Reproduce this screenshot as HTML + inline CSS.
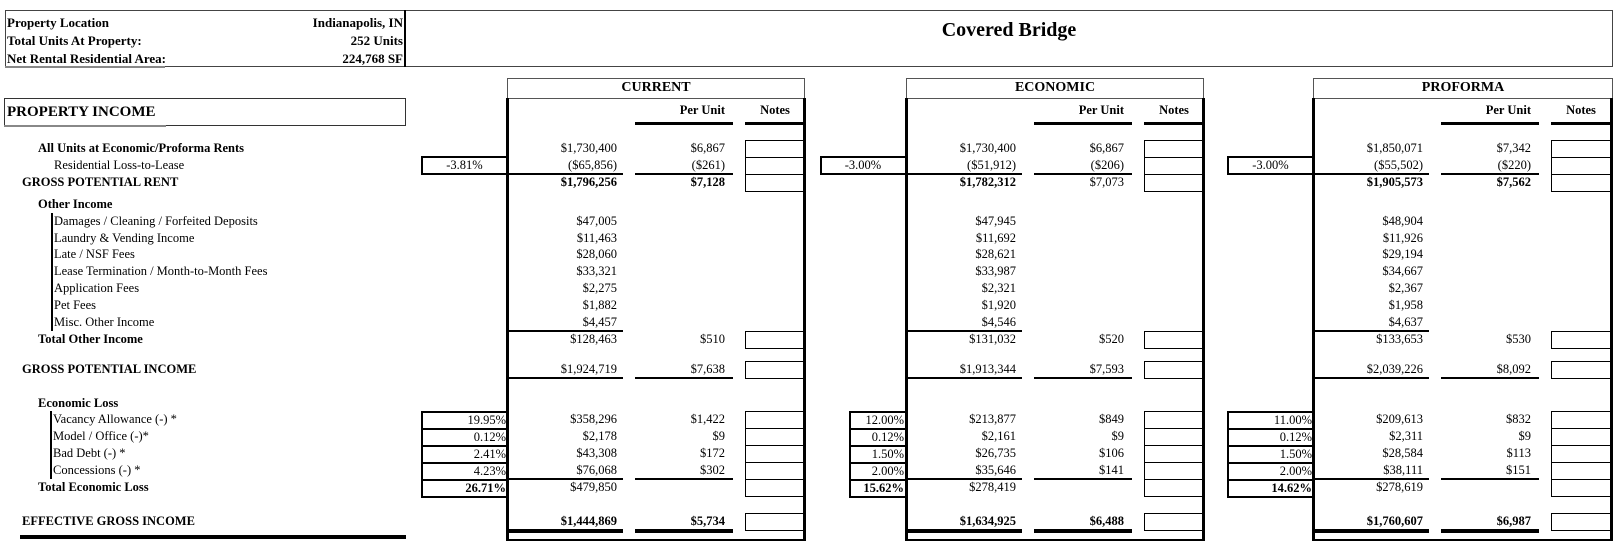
<!DOCTYPE html>
<html><head><meta charset="utf-8"><style>
body{margin:0;width:1621px;height:551px;background:#fff;position:relative;overflow:hidden;font-family:"Liberation Serif",serif;font-size:12.5px;color:#000}
div{position:absolute;box-sizing:border-box}
.t{line-height:17px;white-space:nowrap}
.b{font-weight:bold}
.s{top:0;width:300px;height:551px}
.a{left:0;width:110px;text-align:right;line-height:17px;white-space:nowrap}
.p{left:120px;width:98px;text-align:right;line-height:17px;white-space:nowrap}
.n{left:238px;width:60px;height:18px;border:1px solid #000}
.u{background:#000;height:2px}
.pb{border:2px solid #000;height:19px;text-align:right;line-height:15px;padding-right:1px}
</style></head><body>
<!-- header -->
<div style="left:5px;top:10px;width:1608px;height:57px;border:1px solid #444"></div>
<div style="left:404px;top:10px;width:2px;height:57px;background:#000"></div>
<div style="left:5px;top:66px;width:160px;height:2px;background:#888"></div>
<div class="t b" style="left:7px;top:14px;font-size:13px">Property Location</div>
<div class="t b" style="left:7px;top:32px;font-size:13px">Total Units At Property:</div>
<div class="t b" style="left:7px;top:50px;font-size:13px">Net Rental Residential Area:</div>
<div class="t b" style="left:250px;width:153px;text-align:right;top:14px;font-size:13px">Indianapolis, IN</div>
<div class="t b" style="left:250px;width:153px;text-align:right;top:32px;font-size:13px">252 Units</div>
<div class="t b" style="left:250px;width:153px;text-align:right;top:50px;font-size:13px">224,768 SF</div>
<div class="t b" style="left:406px;width:1206px;text-align:center;top:18px;font-size:20px;line-height:24px">Covered Bridge</div>

<div style="left:4px;top:98px;width:402px;height:28px;border:1px solid #333"></div>
<div style="left:4px;top:125px;width:162px;height:2px;background:#888"></div>
<div class="t b" style="left:7px;top:104px;font-size:15px">PROPERTY INCOME</div>

<!-- left labels -->
<div class="t b" style="left:38px;top:140px">All Units at Economic/Proforma Rents</div>
<div class="t" style="left:54px;top:157px">Residential Loss-to-Lease</div>
<div class="t b" style="left:22px;top:174px">GROSS POTENTIAL RENT</div>
<div class="t b" style="left:38px;top:196px">Other Income</div>
<div style="left:51px;top:213px;width:2px;height:118px;background:#000"></div>
<div class="t" style="left:54px;top:213px">Damages / Cleaning / Forfeited Deposits</div>
<div class="t" style="left:54px;top:230px">Laundry &amp; Vending Income</div>
<div class="t" style="left:54px;top:246px">Late / NSF Fees</div>
<div class="t" style="left:54px;top:263px">Lease Termination / Month-to-Month Fees</div>
<div class="t" style="left:54px;top:280px">Application Fees</div>
<div class="t" style="left:54px;top:297px">Pet Fees</div>
<div class="t" style="left:54px;top:314px">Misc. Other Income</div>
<div class="t b" style="left:38px;top:331px">Total Other Income</div>
<div class="t b" style="left:22px;top:361px">GROSS POTENTIAL INCOME</div>
<div class="t b" style="left:38px;top:395px">Economic Loss</div>
<div style="left:50px;top:411px;width:2px;height:68px;background:#000"></div>
<div class="t" style="left:53px;top:411px">Vacancy Allowance (-) *</div>
<div class="t" style="left:53px;top:428px">Model / Office (-)*</div>
<div class="t" style="left:53px;top:445px">Bad Debt (-) *</div>
<div class="t" style="left:53px;top:462px">Concessions (-) *</div>
<div class="t b" style="left:38px;top:479px">Total Economic Loss</div>
<div class="t b" style="left:22px;top:513px">EFFECTIVE GROSS INCOME</div>
<div style="left:20px;top:535px;width:386px;height:4px;background:#000"></div>

<!-- pct boxes -->
<div class="pb" style="left:421px;top:156px;width:88px;text-align:center">-3.81%</div>
<div class="pb" style="left:421px;top:411px;width:88px">19.95%</div>
<div class="pb" style="left:421px;top:428px;width:88px">0.12%</div>
<div class="pb" style="left:421px;top:445px;width:88px">2.41%</div>
<div class="pb" style="left:421px;top:462px;width:88px">4.23%</div>
<div class="pb b" style="left:421px;top:479px;width:88px">26.71%</div>

<div class="pb" style="left:820px;top:156px;width:87px;text-align:center">-3.00%</div>
<div class="pb" style="left:849px;top:411px;width:58px">12.00%</div>
<div class="pb" style="left:849px;top:428px;width:58px">0.12%</div>
<div class="pb" style="left:849px;top:445px;width:58px">1.50%</div>
<div class="pb" style="left:849px;top:462px;width:58px">2.00%</div>
<div class="pb b" style="left:849px;top:479px;width:58px">15.62%</div>

<div class="pb" style="left:1227px;top:156px;width:88px;text-align:center">-3.00%</div>
<div class="pb" style="left:1227px;top:411px;width:88px">11.00%</div>
<div class="pb" style="left:1227px;top:428px;width:88px">0.12%</div>
<div class="pb" style="left:1227px;top:445px;width:88px">1.50%</div>
<div class="pb" style="left:1227px;top:462px;width:88px">2.00%</div>
<div class="pb b" style="left:1227px;top:479px;width:88px">14.62%</div>

<!-- CURRENT -->
<div class="s" style="left:507px">
<div style="left:0;top:78px;width:298px;height:21px;border:1px solid #555"></div>
<div class="t b" style="left:0;width:298px;text-align:center;top:79px;font-size:14px">CURRENT</div>
<div style="left:-1px;top:98px;width:3px;height:443px;background:#000"></div>
<div style="left:296px;top:98px;width:3px;height:443px;background:#000"></div>
<div style="left:0;top:539px;width:298px;height:2px;background:#000"></div>
<div class="p b" style="top:102px">Per Unit</div>
<div class="t b" style="left:238px;width:60px;text-align:center;top:102px">Notes</div>
<div class="u" style="left:128px;width:98px;top:122px;height:3px"></div>
<div class="u" style="left:238px;width:60px;top:122px;height:3px"></div>
<div class="n" style="top:140px"></div><div class="n" style="top:157px"></div><div class="n" style="top:174px"></div>
<div class="n" style="top:331px"></div><div class="n" style="top:361px"></div>
<div class="n" style="top:411px"></div><div class="n" style="top:428px"></div><div class="n" style="top:445px"></div><div class="n" style="top:462px"></div><div class="n" style="top:479px"></div>
<div class="n" style="top:513px"></div>
<div class="a" style="top:140px">$1,730,400</div><div class="p" style="top:140px">$6,867</div>
<div class="a" style="top:157px">($65,856)</div><div class="p" style="top:157px">($261)</div>
<div class="u" style="left:0;width:116px;top:173px"></div><div class="u" style="left:128px;width:98px;top:173px"></div>
<div class="a b" style="top:174px">$1,796,256</div><div class="p b" style="top:174px">$7,128</div>
<div class="a" style="top:213px">$47,005</div>
<div class="a" style="top:230px">$11,463</div>
<div class="a" style="top:246px">$28,060</div>
<div class="a" style="top:263px">$33,321</div>
<div class="a" style="top:280px">$2,275</div>
<div class="a" style="top:297px">$1,882</div>
<div class="a" style="top:314px">$4,457</div>
<div class="u" style="left:0;width:116px;top:330px"></div>
<div class="a" style="top:331px">$128,463</div><div class="p" style="top:331px">$510</div>
<div class="a" style="top:361px">$1,924,719</div><div class="p" style="top:361px">$7,638</div>
<div class="u" style="left:0;width:116px;top:377px"></div><div class="u" style="left:128px;width:98px;top:377px"></div>
<div class="a" style="top:411px">$358,296</div><div class="p" style="top:411px">$1,422</div>
<div class="a" style="top:428px">$2,178</div><div class="p" style="top:428px">$9</div>
<div class="a" style="top:445px">$43,308</div><div class="p" style="top:445px">$172</div>
<div class="a" style="top:462px">$76,068</div><div class="p" style="top:462px">$302</div>
<div class="u" style="left:0;width:116px;top:478px"></div><div class="u" style="left:128px;width:98px;top:478px"></div>
<div class="a" style="top:479px">$479,850</div>
<div class="a b" style="top:513px">$1,444,869</div><div class="p b" style="top:513px">$5,734</div>
<div class="u" style="left:0;width:116px;top:529px;height:4px"></div><div class="u" style="left:128px;width:98px;top:529px;height:4px"></div>
</div>

<!-- ECONOMIC -->
<div class="s" style="left:906px">
<div style="left:0;top:78px;width:298px;height:21px;border:1px solid #555"></div>
<div class="t b" style="left:0;width:298px;text-align:center;top:79px;font-size:14px">ECONOMIC</div>
<div style="left:-1px;top:98px;width:3px;height:443px;background:#000"></div>
<div style="left:296px;top:98px;width:3px;height:443px;background:#000"></div>
<div style="left:0;top:539px;width:298px;height:2px;background:#000"></div>
<div class="p b" style="top:102px">Per Unit</div>
<div class="t b" style="left:238px;width:60px;text-align:center;top:102px">Notes</div>
<div class="u" style="left:128px;width:98px;top:122px;height:3px"></div>
<div class="u" style="left:238px;width:60px;top:122px;height:3px"></div>
<div class="n" style="top:140px"></div><div class="n" style="top:157px"></div><div class="n" style="top:174px"></div>
<div class="n" style="top:331px"></div><div class="n" style="top:361px"></div>
<div class="n" style="top:411px"></div><div class="n" style="top:428px"></div><div class="n" style="top:445px"></div><div class="n" style="top:462px"></div><div class="n" style="top:479px"></div>
<div class="n" style="top:513px"></div>
<div class="a" style="top:140px">$1,730,400</div><div class="p" style="top:140px">$6,867</div>
<div class="a" style="top:157px">($51,912)</div><div class="p" style="top:157px">($206)</div>
<div class="u" style="left:0;width:116px;top:173px"></div><div class="u" style="left:128px;width:98px;top:173px"></div>
<div class="a b" style="top:174px">$1,782,312</div><div class="p" style="top:174px">$7,073</div>
<div class="a" style="top:213px">$47,945</div>
<div class="a" style="top:230px">$11,692</div>
<div class="a" style="top:246px">$28,621</div>
<div class="a" style="top:263px">$33,987</div>
<div class="a" style="top:280px">$2,321</div>
<div class="a" style="top:297px">$1,920</div>
<div class="a" style="top:314px">$4,546</div>
<div class="u" style="left:0;width:116px;top:330px"></div>
<div class="a" style="top:331px">$131,032</div><div class="p" style="top:331px">$520</div>
<div class="a" style="top:361px">$1,913,344</div><div class="p" style="top:361px">$7,593</div>
<div class="u" style="left:0;width:116px;top:377px"></div><div class="u" style="left:128px;width:98px;top:377px"></div>
<div class="a" style="top:411px">$213,877</div><div class="p" style="top:411px">$849</div>
<div class="a" style="top:428px">$2,161</div><div class="p" style="top:428px">$9</div>
<div class="a" style="top:445px">$26,735</div><div class="p" style="top:445px">$106</div>
<div class="a" style="top:462px">$35,646</div><div class="p" style="top:462px">$141</div>
<div class="u" style="left:0;width:116px;top:478px"></div><div class="u" style="left:128px;width:98px;top:478px"></div>
<div class="a" style="top:479px">$278,419</div>
<div class="a b" style="top:513px">$1,634,925</div><div class="p b" style="top:513px">$6,488</div>
<div class="u" style="left:0;width:116px;top:529px;height:4px"></div><div class="u" style="left:128px;width:98px;top:529px;height:4px"></div>
</div>

<!-- PROFORMA -->
<div class="s" style="left:1313px">
<div style="left:0;top:78px;width:300px;height:21px;border:1px solid #555"></div>
<div class="t b" style="left:0;width:300px;text-align:center;top:79px;font-size:14px">PROFORMA</div>
<div style="left:-1px;top:98px;width:3px;height:443px;background:#000"></div>
<div style="left:297px;top:98px;width:3px;height:443px;background:#000"></div>
<div style="left:0;top:539px;width:300px;height:2px;background:#000"></div>
<div class="p b" style="top:102px">Per Unit</div>
<div class="t b" style="left:238px;width:60px;text-align:center;top:102px">Notes</div>
<div class="u" style="left:128px;width:98px;top:122px;height:3px"></div>
<div class="u" style="left:238px;width:60px;top:122px;height:3px"></div>
<div class="n" style="top:140px"></div><div class="n" style="top:157px"></div><div class="n" style="top:174px"></div>
<div class="n" style="top:331px"></div><div class="n" style="top:361px"></div>
<div class="n" style="top:411px"></div><div class="n" style="top:428px"></div><div class="n" style="top:445px"></div><div class="n" style="top:462px"></div><div class="n" style="top:479px"></div>
<div class="n" style="top:513px"></div>
<div class="a" style="top:140px">$1,850,071</div><div class="p" style="top:140px">$7,342</div>
<div class="a" style="top:157px">($55,502)</div><div class="p" style="top:157px">($220)</div>
<div class="u" style="left:0;width:116px;top:173px"></div><div class="u" style="left:128px;width:98px;top:173px"></div>
<div class="a b" style="top:174px">$1,905,573</div><div class="p b" style="top:174px">$7,562</div>
<div class="a" style="top:213px">$48,904</div>
<div class="a" style="top:230px">$11,926</div>
<div class="a" style="top:246px">$29,194</div>
<div class="a" style="top:263px">$34,667</div>
<div class="a" style="top:280px">$2,367</div>
<div class="a" style="top:297px">$1,958</div>
<div class="a" style="top:314px">$4,637</div>
<div class="u" style="left:0;width:116px;top:330px"></div>
<div class="a" style="top:331px">$133,653</div><div class="p" style="top:331px">$530</div>
<div class="a" style="top:361px">$2,039,226</div><div class="p" style="top:361px">$8,092</div>
<div class="u" style="left:0;width:116px;top:377px"></div><div class="u" style="left:128px;width:98px;top:377px"></div>
<div class="a" style="top:411px">$209,613</div><div class="p" style="top:411px">$832</div>
<div class="a" style="top:428px">$2,311</div><div class="p" style="top:428px">$9</div>
<div class="a" style="top:445px">$28,584</div><div class="p" style="top:445px">$113</div>
<div class="a" style="top:462px">$38,111</div><div class="p" style="top:462px">$151</div>
<div class="u" style="left:0;width:116px;top:478px"></div><div class="u" style="left:128px;width:98px;top:478px"></div>
<div class="a" style="top:479px">$278,619</div>
<div class="a b" style="top:513px">$1,760,607</div><div class="p b" style="top:513px">$6,987</div>
<div class="u" style="left:0;width:116px;top:529px;height:4px"></div><div class="u" style="left:128px;width:98px;top:529px;height:4px"></div>
</div>
</body></html>
